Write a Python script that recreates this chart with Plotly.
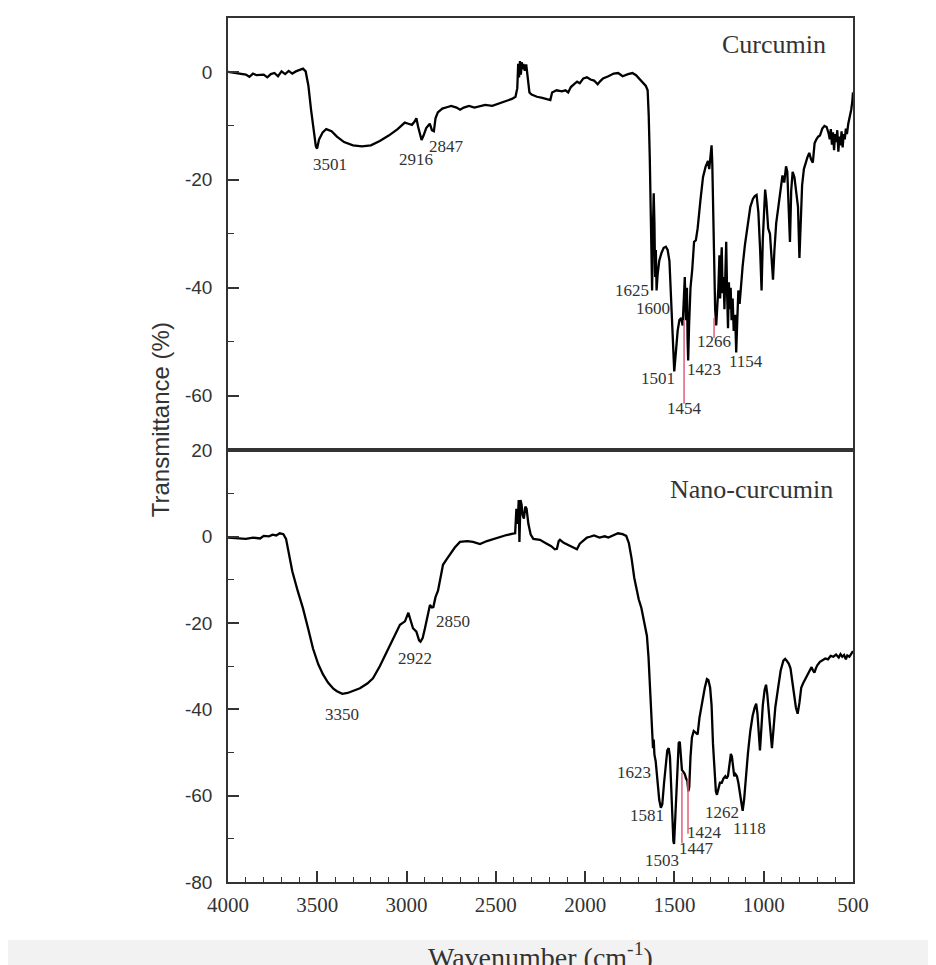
import plotly.graph_objects as go

# ---------------- data ----------------
curcumin_wn = [
    4000, 3950, 3900, 3880, 3860, 3840, 3800, 3780, 3760, 3740,
    3720, 3700, 3680, 3660, 3640, 3620, 3600, 3580, 3565, 3550,
    3535, 3520, 3508, 3501, 3490, 3470, 3450, 3420, 3390, 3350,
    3300, 3250, 3200, 3150, 3100, 3050, 3010, 2990, 2970, 2955,
    2945, 2935, 2925, 2916, 2905, 2890, 2870, 2858, 2847, 2838,
    2825, 2800, 2770, 2750, 2720, 2700, 2680, 2650, 2620, 2600,
    2560, 2520, 2480, 2440, 2410, 2390, 2380, 2375, 2370, 2365,
    2360, 2355, 2350, 2345, 2338, 2330, 2322, 2312, 2300, 2270,
    2240, 2210, 2195, 2185, 2160, 2130, 2110, 2095, 2080, 2060,
    2045, 2030, 2010, 1990, 1970, 1950, 1930, 1915, 1900, 1870,
    1840, 1815, 1790, 1760, 1735, 1715, 1695, 1675, 1660, 1650,
    1644, 1638, 1632, 1628, 1625, 1621, 1616, 1612, 1608, 1604,
    1600, 1594, 1585, 1572, 1560, 1548, 1538, 1528, 1518, 1510,
    1501, 1492, 1482, 1472, 1462, 1454, 1448, 1442, 1436, 1430,
    1426, 1423, 1418, 1410, 1400, 1390, 1380, 1370, 1355, 1340,
    1325, 1312, 1305, 1298, 1292, 1288, 1284, 1278, 1272, 1266,
    1260, 1254, 1248, 1244, 1240, 1235, 1230, 1225, 1220, 1214,
    1210, 1205, 1200, 1195, 1190, 1185, 1180, 1174, 1168, 1160,
    1154, 1148, 1142, 1135, 1128, 1118, 1105, 1090, 1075, 1060,
    1050, 1040, 1030, 1020, 1012, 1005, 998, 992, 985, 975,
    965, 955, 948, 940, 930, 918, 905, 895, 885, 875,
    868, 860, 853, 846, 838, 828, 818, 808, 800, 792,
    785, 775, 765, 755, 745, 735, 725, 715, 705, 695,
    685, 672, 660, 648, 638, 630, 624, 618, 612, 606,
    600, 594, 588, 582, 576, 570, 564, 558, 552, 546,
    540, 534, 526, 518, 510, 504, 500,
]
curcumin_t = [
    0.0, -0.3, -0.5, -0.9, -0.3, -0.6, -0.5, -1.0, -0.4, -0.2,
    -0.8, 0.1, -0.4, 0.2, -0.3, 0.1, 0.3, 0.6, 0.1, -2.5,
    -7.0, -11.0, -13.8, -14.2, -12.5, -11.2, -10.6, -11.0, -12.0, -13.0,
    -13.6, -13.8, -13.6, -12.8, -11.8, -10.6, -9.4, -9.6, -9.8, -9.2,
    -8.6, -10.2, -11.5, -12.6, -11.8, -10.4, -9.6, -10.8, -11.0, -8.6,
    -7.5, -6.8, -6.5, -6.3, -6.6, -7.0, -6.6, -6.3, -6.6, -6.4,
    -6.1, -6.3, -5.8, -5.4, -5.0, -4.6, -3.0, 1.5, -1.0, 2.0,
    -0.5, 1.8, 0.5, 1.5, 0.2, 1.4, -1.5, -3.8, -4.2, -4.6,
    -4.8, -5.0, -5.2, -3.8, -3.4, -3.6, -3.4, -3.8, -2.8, -2.2,
    -1.8, -2.1, -1.2, -1.0, -1.4, -1.6, -2.3, -1.7, -1.2, -0.8,
    -0.3, -0.2, -0.8, -0.4, -0.2, -0.6, -1.4, -2.2, -2.6, -3.4,
    -8.0, -16.0, -28.0, -35.0, -40.5, -30.0, -22.5, -28.0, -38.0, -33.0,
    -40.5, -37.5, -35.0, -33.5, -32.6, -32.4, -33.0, -35.0, -42.0, -50.0,
    -55.5, -52.0, -48.0, -46.0, -45.6, -47.0, -42.0, -38.0, -46.0, -40.0,
    -50.0, -53.5, -47.0, -40.0, -36.5, -31.5, -31.2, -29.0, -24.0, -19.5,
    -17.5, -16.5, -18.0, -15.5, -13.6, -17.0, -24.0, -38.0, -44.0, -47.0,
    -44.0, -40.0, -34.0, -42.0, -36.0, -32.5, -41.0, -38.0, -44.0, -34.0,
    -31.5, -41.0, -47.5, -39.0, -44.0, -40.0, -46.0, -42.0, -48.0, -45.0,
    -52.0, -46.0, -40.5, -43.0, -40.0, -36.0, -32.0, -28.0, -25.0, -23.5,
    -23.0, -22.8, -26.0, -33.0, -40.5, -31.0, -24.0, -21.8, -24.0, -29.0,
    -30.0, -36.0, -38.5, -33.0, -28.0, -25.0, -21.0, -19.2, -20.5, -17.5,
    -18.5, -24.0, -31.5, -22.0, -18.5, -19.5, -22.0, -25.0, -34.5, -26.0,
    -21.0, -18.0, -16.8, -15.8, -15.0, -16.2, -16.8, -13.2, -12.5, -12.0,
    -11.8, -10.5, -10.0, -10.2, -11.2, -12.5, -10.6, -13.5, -11.2, -14.5,
    -11.5, -13.0, -10.8, -14.8, -12.0, -13.6, -11.0, -14.0, -11.5, -12.5,
    -10.5, -11.5, -9.5, -8.5, -7.0, -5.5, -3.8,
]

nano_wn = [
    4000, 3950, 3900, 3860, 3820, 3800, 3770, 3750, 3730, 3710,
    3690, 3675, 3660, 3640, 3610, 3580, 3550, 3524, 3495, 3468,
    3440, 3410, 3390, 3360, 3330, 3300, 3261, 3220, 3188, 3150,
    3110, 3070, 3037, 3009, 2998, 2990, 2980, 2964, 2945, 2930,
    2922, 2910, 2897, 2880, 2869, 2858, 2850, 2838, 2824, 2810,
    2796, 2775, 2757, 2730, 2701, 2660, 2628, 2600, 2589, 2550,
    2510, 2477, 2440, 2404, 2392, 2385, 2378, 2372, 2368, 2362,
    2356, 2350, 2343, 2335, 2328, 2318, 2305, 2290, 2253, 2220,
    2190, 2170, 2158, 2148, 2141, 2120, 2090, 2060, 2046, 2030,
    2010, 1990, 1973, 1950, 1920, 1890, 1870, 1840, 1816, 1790,
    1770, 1755, 1740, 1725, 1712, 1700, 1685, 1670, 1654, 1645,
    1637, 1630, 1624, 1620, 1616, 1612, 1605, 1595, 1585, 1576,
    1568, 1558, 1548, 1540, 1532, 1525, 1518, 1512, 1506, 1502,
    1496, 1490, 1484, 1476, 1470, 1464, 1458, 1450, 1442, 1435,
    1428, 1422, 1417, 1410, 1402, 1392, 1380, 1370, 1360, 1345,
    1330, 1318, 1310, 1300, 1292, 1284, 1276, 1268, 1262, 1255,
    1245, 1235, 1225, 1215, 1208, 1200, 1192, 1184, 1178, 1172,
    1165, 1158, 1150, 1142, 1132, 1124, 1118, 1110, 1100, 1088,
    1075, 1062, 1050, 1042, 1035, 1028, 1021, 1014, 1005, 995,
    987, 980, 970, 960, 954, 946, 935, 920, 905, 890,
    880, 870, 860, 850, 840, 830, 820, 810, 800, 790,
    780, 770, 760, 750, 740, 732, 724, 716, 708, 700,
    685, 670, 655, 640, 625, 610, 595, 580, 570, 560,
    550, 540, 532, 520, 510, 500,
]
nano_t = [
    -0.2, -0.3, -0.5, -0.2, -0.4, 0.2, 0.1, 0.5, 0.3, 0.8,
    0.6, -0.5, -3.5, -8.0, -12.5, -16.6, -21.5, -25.9, -29.5, -31.9,
    -33.8, -35.2, -35.8, -36.4, -36.2, -35.8, -35.1, -34.0, -32.8, -30.0,
    -26.6, -23.2, -20.4, -19.6, -18.2, -17.6, -19.0, -21.2, -22.0, -24.0,
    -24.3, -23.5, -21.2, -17.5, -15.8, -16.4, -16.3, -14.0, -12.5, -9.5,
    -6.5, -5.2, -4.2, -2.5, -1.2, -1.0, -1.2, -1.6, -1.7, -1.0,
    -0.5, 0.0, 0.4, 0.7, 0.8, 6.5, 3.0, 8.5, -1.2, 8.5,
    7.5, 5.0, 4.2, 7.0, 6.5, 3.0, 0.5, -0.5, -0.7, -1.5,
    -2.2, -2.9, -2.8, -1.0, -0.7, -1.4, -2.0, -2.6, -2.9, -1.6,
    -0.8, -0.2, 0.0, 0.3, -0.2, 0.1, -0.2, 0.4, 0.8, 0.6,
    0.2, -1.5, -5.0, -9.5, -12.5, -14.5, -16.5, -19.5, -23.0, -28.0,
    -34.0, -42.0, -46.0, -49.0, -47.0, -50.5, -52.0, -56.5, -61.0, -62.8,
    -62.0, -57.0, -52.0, -49.5, -49.0, -51.0, -58.0, -66.0, -70.5, -71.2,
    -66.0, -58.0, -52.0, -47.8, -47.5, -50.0, -54.0, -54.5, -55.0, -56.0,
    -56.5, -59.0, -58.0, -51.0, -46.5, -45.0, -45.4, -45.8, -42.0, -38.0,
    -35.0, -33.0, -33.2, -35.0, -39.0, -48.0, -55.0, -59.0, -59.8, -58.5,
    -57.0, -57.0, -56.0, -55.5, -56.0, -55.4, -52.0, -50.3, -51.0, -54.0,
    -55.5, -55.0, -55.5, -57.0, -60.0, -62.5, -63.5, -61.0, -55.0, -50.0,
    -45.0, -41.5, -39.5, -38.7, -41.0, -46.0, -49.5, -45.0, -39.0, -35.5,
    -34.3, -36.5, -42.0, -48.0, -49.0, -45.0, -39.5, -35.2, -31.0, -28.7,
    -28.3, -28.8, -29.4, -30.5, -33.0, -36.5, -39.5, -41.0, -38.5, -35.0,
    -34.0, -33.2, -32.5, -31.8, -31.0, -30.2, -31.0, -31.5, -30.5, -29.8,
    -29.0, -28.6, -28.2, -28.4, -27.6, -27.8, -27.3, -28.0, -27.2, -27.8,
    -27.4, -28.4, -27.5, -27.8, -27.2, -26.5,
]

# peak labels: (text, x, y)
curcumin_labels = ["3501", "2916", "2847", "1625", "1600", "1501", "1454", "1423", "1266", "1154"]
curcumin_lab_x = [3429, 2947, 2774, 1738, 1620, 1592, 1446, 1334, 1278, 1099]
curcumin_lab_y = [-17.1, -16.2, -13.8, -40.5, -43.8, -56.9, -62.4, -55.2, -50.0, -53.7]

nano_labels = ["3350", "2922", "2850", "1623", "1581", "1503", "1447", "1424", "1262", "1118"]
nano_lab_x = [3362, 2953, 2740, 1726, 1654, 1570, 1379, 1329, 1234, 1077]
nano_lab_y = [-41.1, -28.2, -19.6, -54.7, -64.7, -75.0, -72.3, -68.6, -64.0, -67.7]

# red marker lines: x, y_start, y_end
curcumin_marks_x = [1446, 1278]
curcumin_marks_y0 = [-46.0, -45.6]
curcumin_marks_y1 = [-61.5, -49.3]
nano_marks_x = [1458, 1424]
nano_marks_y0 = [-54.7, -55.9]
nano_marks_y1 = [-71.1, -68.8]

# axis tick labels
top_y_ticks = [0, -20, -40, -60]
top_y_text = ["0", "-20", "-40", "-60"]
bottom_y_ticks = [20, 0, -20, -40, -60, -80]
bottom_y_text = ["20", "0", "-20", "-40", "-60", "-80"]
x_ticks = [4000, 3500, 3000, 2500, 2000, 1500, 1000, 500]
x_text = ["4000", "3500", "3000", "2500", "2000", "1500", "1000", "500"]

# ---------------- figure ----------------
fig = go.Figure()
fig.add_trace(go.Scatter(x=curcumin_wn, y=curcumin_t, mode="lines",
                         line=dict(color="black", width=2.3), xaxis="x2", yaxis="y2",
                         showlegend=False))
fig.add_trace(go.Scatter(x=nano_wn, y=nano_t, mode="lines",
                         line=dict(color="black", width=2.3), xaxis="x", yaxis="y",
                         showlegend=False))

red = "#e0607a"
for xv, a, b in zip(curcumin_marks_x, curcumin_marks_y0, curcumin_marks_y1):
    fig.add_trace(go.Scatter(x=[xv, xv], y=[a, b], mode="lines", line=dict(color=red, width=1.5),
                             xaxis="x2", yaxis="y2", showlegend=False))
for xv, a, b in zip(nano_marks_x, nano_marks_y0, nano_marks_y1):
    fig.add_trace(go.Scatter(x=[xv, xv], y=[a, b], mode="lines", line=dict(color=red, width=1.5),
                             xaxis="x", yaxis="y", showlegend=False))

serif = "Liberation Serif"
sans = "Liberation Sans"
lab_font = dict(family=serif, size=17, color="#333333")

annotations = []
for t, xv, yv in zip(curcumin_labels, curcumin_lab_x, curcumin_lab_y):
    annotations.append(dict(text=t, x=xv, y=yv, xref="x2", yref="y2", showarrow=False,
                            xanchor="center", yanchor="middle", font=lab_font))
for t, xv, yv in zip(nano_labels, nano_lab_x, nano_lab_y):
    annotations.append(dict(text=t, x=xv, y=yv, xref="x", yref="y", showarrow=False,
                            xanchor="center", yanchor="middle", font=lab_font))

annotations.append(dict(text="Curcumin", x=640, y=5.0, xref="x2", yref="y2", showarrow=False,
                        xanchor="right", yanchor="middle",
                        font=dict(family=serif, size=26, color="#333333")))
annotations.append(dict(text="Nano-curcumin", x=601, y=11.0, xref="x", yref="y", showarrow=False,
                        xanchor="right", yanchor="middle",
                        font=dict(family=serif, size=26, color="#333333")))
annotations.append(dict(text="Transmittance (%)", x=-0.108, y=0.535, xref="paper", yref="paper",
                        showarrow=False, textangle=-90, xanchor="center", yanchor="middle",
                        font=dict(family=sans, size=24, color="#333333")))
annotations.append(dict(text="Wavenumber (cm<sup>-1</sup>)", x=0.5, y=-0.063, xref="paper", yref="paper",
                        showarrow=False, xanchor="center", yanchor="top",
                        font=dict(family=serif, size=28, color="#333333")))

axcol = "#333333"
common_x = dict(range=[4000, 500], showline=True, linecolor=axcol, linewidth=1.6, mirror=True,
                showgrid=False, zeroline=False)
common_y = dict(showline=True, linecolor=axcol, linewidth=1.6, mirror=True, showgrid=False,
                zeroline=False, ticks="inside", ticklen=11, tickwidth=1.5, tickcolor=axcol,
                ticklabelstandoff=10,
                tickfont=dict(family=sans, size=19, color="#333333"),
                minor=dict(ticks="inside", ticklen=6, tickwidth=1.3, tickcolor=axcol,
                           dtick=10, tick0=0))

fig.update_layout(
    width=936, height=965,
    margin=dict(l=220, r=91, t=0, b=91),
    paper_bgcolor="white", plot_bgcolor="white",
    showlegend=False,
    xaxis=dict(**common_x, anchor="y", domain=[0, 1], ticks="inside", ticklen=11, tickwidth=1.5,
               tickcolor=axcol, tickmode="array", tickvals=x_ticks, ticktext=x_text,
               ticklabelstandoff=3,
               tickfont=dict(family=serif, size=21, color="#333333"),
               minor=dict(ticks="inside", ticklen=5, tickwidth=1.3, tickcolor=axcol,
                          dtick=100, tick0=0)),
    xaxis2=dict(**common_x, anchor="y2", domain=[0, 1], matches="x", showticklabels=False, ticks=""),
    yaxis=dict(**common_y, domain=[0, 0.4995], range=[-80, 20],
               tickmode="array", tickvals=bottom_y_ticks, ticktext=bottom_y_text),
    yaxis2=dict(**common_y, domain=[0.5005, 1], range=[-70, 10],
                tickmode="array", tickvals=top_y_ticks, ticktext=top_y_text),
    annotations=annotations,
    shapes=[dict(type="rect", xref="paper", yref="paper", x0=-0.37, x1=1.16, y0=-0.067, y1=-0.12,
                 fillcolor="#f2f2f2", line=dict(width=0), layer="below")],
)

fig.write_html("out.html")
